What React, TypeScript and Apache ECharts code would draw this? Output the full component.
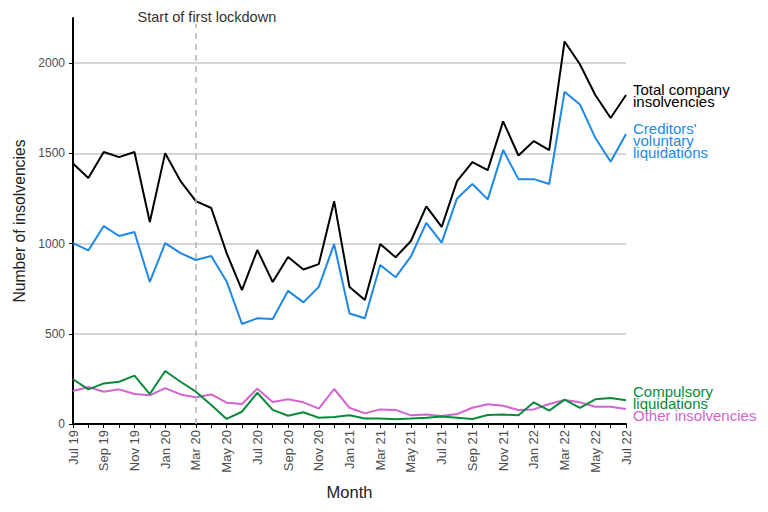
import React, { useEffect, useRef } from "react";
import * as echarts from "echarts";

const months = [
  "Jul 19","Aug 19","Sep 19","Oct 19","Nov 19","Dec 19","Jan 20","Feb 20","Mar 20","Apr 20","May 20","Jun 20",
  "Jul 20","Aug 20","Sep 20","Oct 20","Nov 20","Dec 20","Jan 21","Feb 21","Mar 21","Apr 21","May 21","Jun 21",
  "Jul 21","Aug 21","Sep 21","Oct 21","Nov 21","Dec 21","Jan 22","Feb 22","Mar 22","Apr 22","May 22","Jun 22","Jul 22",
];

const total = [
  1444, 1363, 1507, 1479, 1507, 1119, 1501, 1346, 1235, 1197, 947, 742,
  964, 787, 925, 856, 886, 1235, 759, 687, 997, 924, 1014, 1206,
  1092, 1346, 1451, 1407, 1677, 1488, 1568, 1518, 2120, 1994, 1823, 1696, 1823,
];
const creditors = [
  1002, 962, 1097, 1042, 1064, 787, 1002, 947, 909, 931, 790, 554,
  586, 582, 738, 674, 760, 997, 612, 586, 881, 813, 929, 1115,
  1005, 1250, 1330, 1245, 1518, 1357, 1357, 1330, 1841, 1771, 1586, 1453, 1607,
];
const compulsory = [
  248, 192, 225, 234, 268, 166, 294, 234, 179, 105, 28, 68,
  173, 78, 46, 65, 35, 39, 49, 31, 31, 26, 30, 35,
  41, 35, 28, 50, 52, 48, 120, 74, 135, 90, 137, 144, 131,
];
const other = [
  183, 205, 179, 192, 166, 159, 199, 164, 148, 164, 118, 111,
  196, 122, 137, 120, 85, 194, 90, 59, 81, 78, 48, 52,
  44, 55, 90, 109, 101, 78, 81, 111, 133, 120, 96, 96, 83,
];

const lockdownMonth = "Mar 20";
const lockdownText = "Start of first lockdown";
const yTicks = [0, 500, 1000, 1500, 2000];

const FONT = "Liberation Sans, Arial, sans-serif";

export default function App() {
  const ref = useRef<HTMLDivElement>(null);
  useEffect(() => {
    const chart = echarts.init(ref.current!, null, { renderer: "svg" });
    const mkSeries = (name: string, data: number[], color: string, label: string, offY: number, extra: any = {}) => ({
      name,
      type: "line",
      data,
      symbol: "none",
      lineStyle: { color, width: 2 },
      itemStyle: { color },
      endLabel: {
        show: true,
        formatter: label,
        color,
        fontFamily: FONT,
        fontSize: 15,
        lineHeight: 12,
        distance: 7,
        offset: [0, offY],
        align: "left",
      },
      ...extra,
    });
    chart.setOption({
      animation: false,
      backgroundColor: "#ffffff",
      grid: { left: 73, right: 142, top: 18, bottom: 88, containLabel: false },
      xAxis: {
        type: "category",
        data: months,
        boundaryGap: false,
        name: "Month",
        nameLocation: "middle",
        nameGap: 59,
        nameTextStyle: { fontFamily: FONT, fontSize: 16.5, color: "#222" },
        axisLine: { lineStyle: { color: "#000", width: 2 } },
        axisTick: { show: true, interval: 0, length: 4, lineStyle: { color: "#000" } },
        axisLabel: {
          interval: 1,
          rotate: 90,
          fontFamily: FONT,
          fontSize: 13,
          color: "#4d4d4d",
          margin: 6,
        },
        splitLine: { show: false },
      },
      yAxis: {
        type: "value",
        min: 0,
        max: 2250,
        interval: 500,
        name: "Number of insolvencies",
        nameLocation: "middle",
        nameGap: 40,
        nameTextStyle: { fontFamily: FONT, fontSize: 15.7, color: "#222" },
        axisLine: { show: true, lineStyle: { color: "#000", width: 2 } },
        axisTick: { show: true, length: 4, lineStyle: { color: "#000" } },
        axisLabel: {
          fontFamily: FONT,
          fontSize: 12,
          color: "#4d4d4d",
          margin: 8,
          showMaxLabel: false,
          formatter: (v: number) => (yTicks.includes(v) ? String(v) : ""),
        },
        splitLine: {
          show: true,
          lineStyle: {
            color: ["#c8c8c8", "#c8c8c8", "#c8c8c8", "#c8c8c8", "#c8c8c8", "rgba(0,0,0,0)"],
            width: 1.5,
          },
        },
      },
      series: [
        mkSeries("Other insolvencies", other, "#d364cf", "Other insolvencies", 6),
        mkSeries("Compulsory liquidations", compulsory, "#0a8a3c", "Compulsory\nliquidations", -3),
        mkSeries("Creditors' voluntary liquidations", creditors, "#1e88e5", "Creditors'\nvoluntary\nliquidations", 6),
        mkSeries("Total company insolvencies", total, "#000000", "Total company\ninsolvencies", 0, {
          markLine: {
            silent: true,
            symbol: "none",
            lineStyle: { color: "#b4b4b4", type: [6, 5], width: 1.5 },
            label: {
              show: true,
              position: "end",
              distance: -6,
              formatter: lockdownText,
              fontFamily: FONT,
              fontSize: 14.5,
              color: "#333",
              backgroundColor: "#fff",
              padding: [0, 0, 0, 22],
            },
            data: [{ xAxis: lockdownMonth }],
          },
        }),
      ],
    });
    return () => chart.dispose();
  }, []);
  return <div ref={ref} style={{ width: 768, height: 512, position: "absolute", left: 0, top: 0 }} />;
}
